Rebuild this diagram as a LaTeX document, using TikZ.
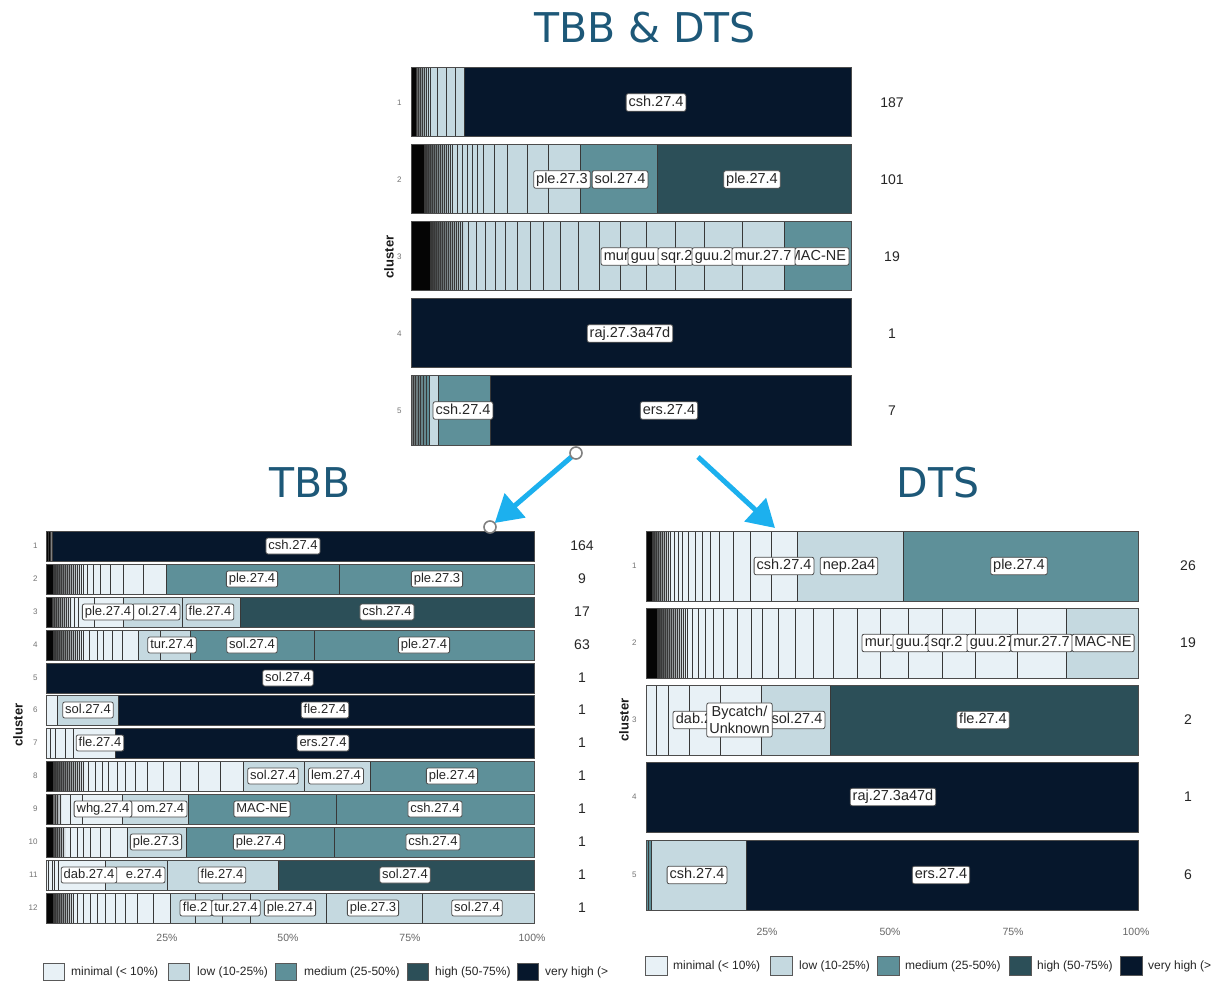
\documentclass[tikz,border=0pt]{standalone}
\usepackage{fontspec}
\setmainfont{Liberation Sans}
\newfontfamily\titlefont{DejaVu Sans}
\usetikzlibrary{arrows.meta}
\definecolor{cmin}{HTML}{E8F1F6}
\definecolor{clow}{HTML}{C5D9E0}
\definecolor{cmed}{HTML}{5E9099}
\definecolor{chigh}{HTML}{2C4F58}
\definecolor{cvh}{HTML}{06172C}
\definecolor{cblk}{HTML}{050505}
\definecolor{arrowc}{HTML}{1CB0EE}
\definecolor{titlec}{HTML}{1D5878}
\tikzset{
 seg/.style={draw=black!78, line width=0.7pt},
 frame/.style={draw=black!70, line width=1pt},
 lblT/.style={draw=black!70, fill=white, rounded corners=2pt, line width=0.8pt, inner xsep=2.5pt, inner ysep=2pt, text height=10.5pt, text depth=3pt, font=\fontsize{14.5}{16}\selectfont, text=black!85},
 lblL/.style={draw=black!70, fill=white, rounded corners=2pt, line width=0.8pt, inner xsep=2.5pt, inner ysep=2pt, text height=9.5pt, text depth=2.5pt, font=\fontsize{13}{15}\selectfont, text=black!85},
 lblbox/.style={draw=black!70, fill=white, rounded corners=2pt, line width=0.8pt},
 rownum/.style={anchor=east, font=\fontsize{8}{9}\selectfont, text=black!55},
 cnt/.style={font=\fontsize{14}{16}\selectfont, text=black!85},
 axl/.style={font=\fontsize{10.5}{12}\selectfont, text=black!60},
 clus/.style={font=\bfseries\fontsize{13}{15}\selectfont, rotate=90, text=black!90},
 legbox/.style={draw=black!65, line width=0.8pt},
 legtxt/.style={anchor=west, font=\fontsize{12}{14}\selectfont, text=black!85, inner sep=0pt},
 ttl/.style={font=\titlefont\fontsize{41}{48}\selectfont, text=titlec},
 bigarrow/.style={draw=arrowc, line width=5pt, -{Triangle[length=27pt,width=31pt]}},
 hcirc/.style={draw=black!50, fill=white, line width=1.6pt},
}
\newcommand\grad[6]{\shade[left color=#5,right color=#6] (#1,#3) rectangle (#2,#4);}
\newcommand\barrow[4]{%
  \foreach \aa/\bb/\cc in {#3}{\fill[fill=\cc] (\aa,#1) rectangle (\bb,#2);}
  \foreach \xx in {#4}{\draw[seg] (\xx,#1) -- (\xx,#2);}
  \draw[frame] (\xa,#1) rectangle (\xb,#2);}
\newcommand\clabl[5]{%
  \filldraw[lblbox] (#2,{#4-\lh}) rectangle (#3,{#4+\lh});
  \begin{scope}\clip ({#2+0.6},{#4-\lh}) rectangle ({#3-0.6},{#4+\lh});
  \node[curlbl,draw=none,fill=none,anchor=west] (#1) at (#2,#4) {#5};\end{scope}}
\newcommand\clabr[5]{%
  \filldraw[lblbox] (#2,{#4-\lh}) rectangle (#3,{#4+\lh});
  \begin{scope}\clip ({#2+0.6},{#4-\lh}) rectangle ({#3-0.6},{#4+\lh});
  \node[curlbl,draw=none,fill=none,anchor=east] (#1) at (#3,#4) {#5};\end{scope}}
\begin{document}
\begin{tikzpicture}[x=1pt,y=-1pt]
\useasboundingbox[fill=white] (0,0) rectangle (1218,981);

% titles
\node[ttl] (ttop) at (645,28) {TBB \& DTS};
\node[ttl] (ttbb) at (310,483) {TBB};
\node[ttl] (tdts) at (938,483) {DTS};

%%%%%%%% TOP CHART
\def\xa{411}\def\xb{851}
\grad{416}{428}{68}{137}{black!65}{clow}
\barrow{68}{137}{411/416/cblk,428/464/clow,464/851/cvh}{416,418,...,428,430,437,446,455,464}
\grad{424}{452}{145}{214}{black!80}{clow}
\barrow{145}{214}{411/424/cblk,452/580/clow,580/657/cmed,657/851/chigh}{424,426,...,452,457,462,467,472,477,483,494,507,527,548,580,657}
\grad{430}{465}{222}{291}{black!80}{clow}
\barrow{222}{291}{411/430/cblk,465/784/clow,784/851/cmed}{430,432,...,462,468,476,485,495,505,517,530,543,560,578,599,620,646,675,704,742,784}
\barrow{299}{368}{411/851/cvh}{851}
\grad{411}{429}{376}{445}{black!55}{cmed}
\barrow{376}{445}{429/438/clow,438/490/cmed,490/851/cvh}{413,415,418,420,423,426,429,438,490}
\tikzset{curlbl/.style=lblT}\def\lh{8.75}
\node[curlbl] (t1a) at (656,102.5) {csh.27.4};
\node[curlbl] (t2b) at (620,179.5) {sol.27.4};
\node[curlbl] (t2a) at (562,179.5) {ple.27.3};
\node[curlbl] (t2c) at (752,179.5) {ple.27.4};
\clabl{t3a}{601}{629}{256.5}{mur}
\clabl{t3b}{628}{659}{256.5}{guu}
\clabl{t3c}{658}{693}{256.5}{sqr.2}
\clabl{t3d}{692}{733}{256.5}{guu.2}
\clabl{t3e}{732}{796}{256.5}{mur.27.7}
\clabr{t3f}{795}{849}{256.5}{MAC-NE}
\node[curlbl] (t4a) at (630,333.5) {raj.27.3a47d};
\node[curlbl] (t5a) at (463,410.5) {csh.27.4};
\node[curlbl] (t5b) at (669,410.5) {ers.27.4};
\foreach \i/\y/\n in {1/102.5/187,2/179.5/101,3/256.5/19,4/333.5/1,5/410.5/7}{
  \node[rownum] (tr\i) at (405,\y) {\i};
  \node[cnt] (tc\i) at (892,\y) {\n};}
\node[clus] (tclu) at (389,257) {cluster};

%%%%%%%% LEFT CHART (TBB)
\def\xa{46}\def\xb{534}
\barrow{531}{561}{46/50/cblk,50/52/black!50,52/534/cvh}{48,50,52}
\grad{53}{82}{564}{594}{black!80}{cmin}
\barrow{564}{594}{46/53/cblk,82/166/cmin,166/534/cmed}{53,55,...,81,83,87,93,100,110,123,143,166,339}
\grad{52}{72}{597}{627}{black!70}{cmin}
\barrow{597}{627}{46/52/cblk,72/123/cmin,123/240/clow,240/534/chigh}{52,54,...,70,74,78,94,123,182,240}
\grad{53}{82}{630}{660}{black!80}{cmin}
\barrow{630}{660}{46/53/cblk,82/138/cmin,138/190/clow,190/534/cmed}{53,55,...,81,83,89,97,103,112,122,138,160,190,314}
\barrow{663}{693}{46/534/cvh}{534}
\barrow{695}{725}{46/57/cmin,57/118/clow,118/534/cvh}{57,118}
\barrow{728}{758}{46/115/cmin,115/534/cvh}{50,55,65,73,115}
\grad{53}{85}{761}{791}{black!80}{cmin}
\barrow{761}{791}{46/53/cblk,85/243/cmin,243/370/clow,370/534/cmed}{53,55,...,83,88,95,102,108,117,125,135,147,163,180,198,220,243,304,370}
\grad{53}{62}{794}{824}{black!60}{cmin}
\barrow{794}{824}{46/53/cblk,62/122/cmin,122/188/clow,188/534/cmed}{55,57,60,70,82,122,188,336}
\grad{53}{66}{827}{857}{black!75}{cmin}
\barrow{827}{857}{46/53/cblk,66/127/cmin,127/186/clow,186/534/cmed}{53,55,...,63,70,77,83,90,100,110,127,186,334}
\barrow{860}{890}{46/105/cmin,105/278/clow,278/534/chigh}{48,52,54,58,105,167,278}
\grad{53}{74}{893}{923}{black!80}{cmin}
\barrow{893}{923}{46/53/cblk,74/170/cmin,170/534/clow}{53,55,...,73,77,83,90,97,105,115,125,137,153,170,195,222,250,326,422}
\tikzset{curlbl/.style=lblL}\def\lh{8}
\node[curlbl] (l1a) at (293,546) {csh.27.4};
\node[curlbl] (l2a) at (252,579) {ple.27.4};
\node[curlbl] (l2b) at (437,579) {ple.27.3};
\clabr{l3b}{132}{180}{612}{ol.27.4}
\node[curlbl] (l3a) at (108,612) {ple.27.4};
\node[curlbl] (l3c) at (210,612) {fle.27.4};
\node[curlbl] (l3d) at (387,612) {csh.27.4};
\node[curlbl] (l4a) at (172,645) {tur.27.4};
\node[curlbl] (l4b) at (252,645) {sol.27.4};
\node[curlbl] (l4c) at (424,645) {ple.27.4};
\node[curlbl] (l5a) at (288,678) {sol.27.4};
\node[curlbl] (l6a) at (88,710) {sol.27.4};
\node[curlbl] (l6b) at (325,710) {fle.27.4};
\node[curlbl] (l7a) at (100,743) {fle.27.4};
\node[curlbl] (l7b) at (323,743) {ers.27.4};
\node[curlbl] (l8a) at (273,776) {sol.27.4};
\node[curlbl] (l8b) at (336,776) {lem.27.4};
\node[curlbl] (l8c) at (452,776) {ple.27.4};
\clabr{l9b}{128}{187}{809}{om.27.4}
\node[curlbl] (l9a) at (103,809) {whg.27.4};
\node[curlbl] (l9c) at (262,809) {MAC-NE};
\node[curlbl] (l9d) at (435,809) {csh.27.4};
\node[curlbl] (l10a) at (156,842) {ple.27.3};
\node[curlbl] (l10b) at (259,842) {ple.27.4};
\node[curlbl] (l10c) at (433,842) {csh.27.4};
\clabr{l11b}{115}{165}{875}{e.27.4}
\node[curlbl] (l11a) at (89,875) {dab.27.4};
\node[curlbl] (l11c) at (222,875) {fle.27.4};
\node[curlbl] (l11d) at (405,875) {sol.27.4};
\clabl{l12a}{180}{212}{908}{fle.2}
\node[curlbl] (l12c) at (290,908) {ple.27.4};
\node[curlbl] (l12b) at (236,908) {tur.27.4};
\node[curlbl] (l12d) at (373,908) {ple.27.3};
\node[curlbl] (l12e) at (477,908) {sol.27.4};
\foreach \i/\y/\n in {1/546/164,2/579/9,3/612/17,4/645/63,5/678/1,6/710/1,7/743/1,8/776/1,9/809/1,10/842/1,11/875/1,12/908/1}{
  \node[rownum] (lr\i) at (41,\y) {\i};
  \node[cnt] (lc\i) at (582,\y) {\n};}
\node[clus] (lclu) at (18,725) {cluster};
\foreach \i/\x/\t in {1/167/25,2/288/50,3/410/75,4/532/100}{
  \node[axl] (lx\i) at (\x,938) {\t\%};}
% legend left
\node[legbox,fill=cmin,minimum width=21pt,minimum height=17pt] (lg1) at (53.5,971.5) {};
\node[legtxt] (lt1) at (71,972) {minimal (< 10\%)};
\node[legbox,fill=clow,minimum width=21pt,minimum height=17pt] (lg2) at (179,971.5) {};
\node[legtxt] (lt2) at (197,972) {low (10-25\%)};
\node[legbox,fill=cmed,minimum width=21pt,minimum height=17pt] (lg3) at (286,971.5) {};
\node[legtxt] (lt3) at (304,972) {medium (25-50\%)};
\node[legbox,fill=chigh,minimum width=21pt,minimum height=17pt] (lg4) at (417.5,971.5) {};
\node[legtxt] (lt4) at (435,972) {high (50-75\%)};
\node[legbox,fill=cvh,minimum width=21pt,minimum height=17pt] (lg5) at (528,971.5) {};
\node[legtxt] (lt5) at (545,972) {very high (>};

%%%%%%%% RIGHT CHART (DTS)
\def\xa{646}\def\xb{1138}
\grad{652}{670}{531}{601}{black!80}{cmin}
\barrow{531}{601}{646/652/cblk,670/797/cmin,797/903/clow,903/1138/cmed}{652,654,...,670,674,678,682,688,695,702,710,719,733,750,771,797,903}
\grad{657}{686}{608}{678}{black!80}{cmin}
\barrow{608}{678}{646/657/cblk,686/1066/cmin,1066/1138/clow}{657,659,...,685,687,692,698,705,713,723,737,751,762,778,795,813,833,857,880,908,942,975,1017,1066}
\barrow{685}{755}{646/761/cmin,761/830/clow,830/1138/chigh}{656,668,689,720,761,830}
\barrow{762}{832}{646/1138/cvh}{1138}
\barrow{840}{910}{646/651/cmed,651/746/clow,746/1138/cvh}{648,651,746}
\tikzset{curlbl/.style=lblT}\def\lh{8.75}
\node[curlbl] (r1a) at (784,566) {csh.27.4};
\node[curlbl] (r1b) at (849,566) {nep.2a4};
\node[curlbl] (r1c) at (1019,566) {ple.27.4};
\clabl{r2a}{862}{894}{643}{mur.}
\clabl{r2b}{893}{929}{643}{guu.2}
\clabl{r2c}{928}{968}{643}{sqr.2}
\clabl{r2d}{967}{1011}{643}{guu.27}
\node[curlbl] (r2e) at (1041.5,643) {mur.27.7};
\node[curlbl] (r2f) at (1103,643) {MAC-NE};
\clabl{r3a}{673}{709}{720}{dab.2}
\node[curlbl] (r3c) at (797,720) {sol.27.4};
\node[curlbl,align=center,text height=,text depth=,inner ysep=3pt,font=\fontsize{14.5}{17.5}\selectfont] (r3b) at (739.5,720) {Bycatch/\\Unknown};
\node[curlbl] (r3d) at (983,720) {fle.27.4};
\node[curlbl] (r4a) at (893,797) {raj.27.3a47d};
\node[curlbl] (r5a) at (697,875) {csh.27.4};
\node[curlbl] (r5b) at (941,875) {ers.27.4};
\foreach \i/\y/\n in {1/566/26,2/643/19,3/720/2,4/797/1,5/875/6}{
  \node[rownum] (rr\i) at (640,\y) {\i};
  \node[cnt] (rc\i) at (1188,\y) {\n};}
\node[clus] (rclu) at (624,720) {cluster};
\foreach \i/\x/\t in {1/767/25,2/890/50,3/1013/75,4/1136/100}{
  \node[axl] (rx\i) at (\x,932) {\t\%};}
% legend right
\node[legbox,fill=cmin,minimum width=22pt,minimum height=19pt] (rg1) at (656,965.5) {};
\node[legtxt] (rt1) at (673,966) {minimal (< 10\%)};
\node[legbox,fill=clow,minimum width=22pt,minimum height=19pt] (rg2) at (781.5,965.5) {};
\node[legtxt] (rt2) at (799,966) {low (10-25\%)};
\node[legbox,fill=cmed,minimum width=22pt,minimum height=19pt] (rg3) at (888,965.5) {};
\node[legtxt] (rt3) at (905,966) {medium (25-50\%)};
\node[legbox,fill=chigh,minimum width=22pt,minimum height=19pt] (rg4) at (1020,965.5) {};
\node[legtxt] (rt4) at (1037,966) {high (50-75\%)};
\node[legbox,fill=cvh,minimum width=22pt,minimum height=19pt] (rg5) at (1131.5,965.5) {};
\node[legtxt] (rt5) at (1148,966) {very high (>};

%%%%%%%% ARROWS
\node[circle,minimum size=12pt,inner sep=0pt] (c1) at (576,453) {};
\node[circle,minimum size=12pt,inner sep=0pt] (c2) at (490,527) {};
\coordinate (a2s) at (698,457);
\coordinate (a2e) at (775,528);
\draw[bigarrow] (c1) -- (c2);
\draw[bigarrow] (a2s) -- (a2e);
\draw[hcirc] (c1.center) circle[radius=6];
\draw[hcirc] (c2.center) circle[radius=6];
\end{tikzpicture}
\end{document}
